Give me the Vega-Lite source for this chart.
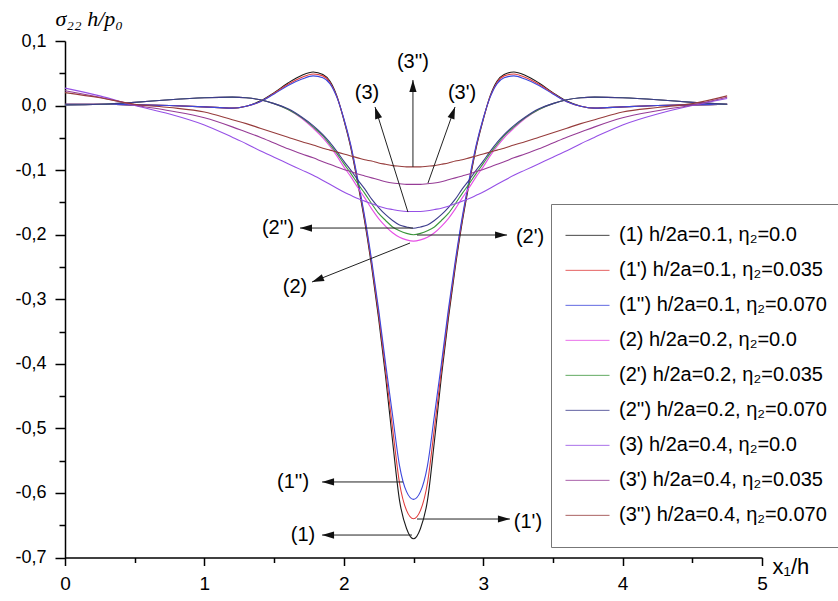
{
  "$schema": "https://vega.github.io/schema/vega-lite/v6.json",
  "width": 697,
  "height": 516.5,
  "autosize": {"type": "none"},
  "padding": {"left": 65, "top": 41, "right": 76, "bottom": 43.5},
  "background": "white",
  "config": {"view": {"stroke": null}, "font": "Liberation Sans"},
  "datasets": {
    "names": [
      {"k": "s1", "label": "(1) h/2a=0.1, η₂=0.0"},
      {"k": "s2", "label": "(1') h/2a=0.1, η₂=0.035"},
      {"k": "s3", "label": "(1'') h/2a=0.1, η₂=0.070"},
      {"k": "s4", "label": "(2) h/2a=0.2, η₂=0.0"},
      {"k": "s5", "label": "(2') h/2a=0.2, η₂=0.035"},
      {"k": "s6", "label": "(2'') h/2a=0.2, η₂=0.070"},
      {"k": "s7", "label": "(3) h/2a=0.4, η₂=0.0"},
      {"k": "s8", "label": "(3') h/2a=0.4, η₂=0.035"},
      {"k": "s9", "label": "(3'') h/2a=0.4, η₂=0.070"}
    ],
    "curves": [
      {"x": 0, "s1": 0.002, "s2": 0.002, "s3": 0.002, "s4": 0.001, "s5": 0.001, "s6": 0.001, "s7": 0.027, "s8": 0.023, "s9": 0.020},
      {"x": 0.25, "s1": 0.002, "s2": 0.002, "s3": 0.002, "s4": 0.002, "s5": 0.002, "s6": 0.002, "s7": 0.015, "s8": 0.013, "s9": 0.012},
      {"x": 0.5, "s1": 0.001, "s2": 0.001, "s3": 0.001, "s4": 0.005, "s5": 0.005, "s6": 0.005, "s7": 0.0, "s8": 0.001, "s9": 0.002},
      {"x": 0.75, "s1": 0.0, "s2": 0.0, "s3": 0.0, "s4": 0.009, "s5": 0.009, "s6": 0.009, "s7": -0.013, "s8": -0.008, "s9": -0.003},
      {"x": 1.0, "s1": -0.002, "s2": -0.002, "s3": -0.002, "s4": 0.012, "s5": 0.012, "s6": 0.012, "s7": -0.03, "s8": -0.019, "s9": -0.01},
      {"x": 1.2, "s1": -0.004, "s2": -0.004, "s3": -0.004, "s4": 0.013, "s5": 0.013, "s6": 0.013, "s7": -0.049, "s8": -0.033, "s9": -0.022},
      {"x": 1.3, "s1": -0.001, "s2": -0.001, "s3": -0.001, "s4": 0.012, "s5": 0.012, "s6": 0.012, "s7": -0.059, "s8": -0.041, "s9": -0.028},
      {"x": 1.4, "s1": 0.007, "s2": 0.006, "s3": 0.006, "s4": 0.009, "s5": 0.009, "s6": 0.009, "s7": -0.07, "s8": -0.049, "s9": -0.035},
      {"x": 1.5, "s1": 0.02, "s2": 0.019, "s3": 0.018, "s4": 0.003, "s5": 0.003, "s6": 0.003, "s7": -0.08, "s8": -0.058, "s9": -0.042},
      {"x": 1.6, "s1": 0.035, "s2": 0.033, "s3": 0.031, "s4": -0.006, "s5": -0.006, "s6": -0.005, "s7": -0.09, "s8": -0.067, "s9": -0.049},
      {"x": 1.7, "s1": 0.047, "s2": 0.044, "s3": 0.041, "s4": -0.02, "s5": -0.019, "s6": -0.018, "s7": -0.1, "s8": -0.075, "s9": -0.056},
      {"x": 1.78, "s1": 0.052, "s2": 0.049, "s3": 0.046, "s4": -0.035, "s5": -0.033, "s6": -0.031, "s7": -0.108, "s8": -0.081, "s9": -0.061},
      {"x": 1.85, "s1": 0.048, "s2": 0.046, "s3": 0.043, "s4": -0.05, "s5": -0.047, "s6": -0.045, "s7": -0.116, "s8": -0.087, "s9": -0.066},
      {"x": 1.9, "s1": 0.038, "s2": 0.036, "s3": 0.034, "s4": -0.063, "s5": -0.06, "s6": -0.057, "s7": -0.122, "s8": -0.091, "s9": -0.069},
      {"x": 1.95, "s1": 0.015, "s2": 0.014, "s3": 0.013, "s4": -0.078, "s5": -0.074, "s6": -0.071, "s7": -0.128, "s8": -0.095, "s9": -0.072},
      {"x": 2.0, "s1": -0.022, "s2": -0.021, "s3": -0.02, "s4": -0.095, "s5": -0.09, "s6": -0.086, "s7": -0.134, "s8": -0.099, "s9": -0.075},
      {"x": 2.05, "s1": -0.065, "s2": -0.063, "s3": -0.061, "s4": -0.11, "s5": -0.105, "s6": -0.1, "s7": -0.139, "s8": -0.102, "s9": -0.078},
      {"x": 2.1, "s1": -0.12, "s2": -0.117, "s3": -0.114, "s4": -0.127, "s5": -0.121, "s6": -0.115, "s7": -0.144, "s8": -0.106, "s9": -0.081},
      {"x": 2.15, "s1": -0.18, "s2": -0.176, "s3": -0.172, "s4": -0.143, "s5": -0.136, "s6": -0.129, "s7": -0.148, "s8": -0.109, "s9": -0.084},
      {"x": 2.2, "s1": -0.25, "s2": -0.245, "s3": -0.24, "s4": -0.16, "s5": -0.152, "s6": -0.145, "s7": -0.152, "s8": -0.112, "s9": -0.086},
      {"x": 2.25, "s1": -0.33, "s2": -0.323, "s3": -0.316, "s4": -0.175, "s5": -0.167, "s6": -0.158, "s7": -0.156, "s8": -0.115, "s9": -0.089},
      {"x": 2.3, "s1": -0.42, "s2": -0.41, "s3": -0.4, "s4": -0.187, "s5": -0.178, "s6": -0.169, "s7": -0.159, "s8": -0.118, "s9": -0.091},
      {"x": 2.35, "s1": -0.52, "s2": -0.5, "s3": -0.48, "s4": -0.197, "s5": -0.188, "s6": -0.178, "s7": -0.161, "s8": -0.12, "s9": -0.093},
      {"x": 2.4, "s1": -0.612, "s2": -0.585, "s3": -0.558, "s4": -0.204, "s5": -0.194, "s6": -0.185, "s7": -0.163, "s8": -0.121, "s9": -0.094},
      {"x": 2.45, "s1": -0.655, "s2": -0.627, "s3": -0.598, "s4": -0.208, "s5": -0.198, "s6": -0.188, "s7": -0.164, "s8": -0.122, "s9": -0.095},
      {"x": 2.5, "s1": -0.671, "s2": -0.64, "s3": -0.61, "s4": -0.21, "s5": -0.2, "s6": -0.19, "s7": -0.164, "s8": -0.122, "s9": -0.095},
      {"x": 2.55, "s1": -0.655, "s2": -0.627, "s3": -0.598, "s4": -0.208, "s5": -0.198, "s6": -0.188, "s7": -0.164, "s8": -0.122, "s9": -0.095},
      {"x": 2.6, "s1": -0.612, "s2": -0.585, "s3": -0.558, "s4": -0.204, "s5": -0.194, "s6": -0.185, "s7": -0.163, "s8": -0.121, "s9": -0.094},
      {"x": 2.65, "s1": -0.52, "s2": -0.5, "s3": -0.48, "s4": -0.197, "s5": -0.188, "s6": -0.178, "s7": -0.161, "s8": -0.12, "s9": -0.093},
      {"x": 2.7, "s1": -0.42, "s2": -0.41, "s3": -0.4, "s4": -0.187, "s5": -0.178, "s6": -0.169, "s7": -0.159, "s8": -0.118, "s9": -0.091},
      {"x": 2.75, "s1": -0.33, "s2": -0.323, "s3": -0.316, "s4": -0.175, "s5": -0.167, "s6": -0.158, "s7": -0.156, "s8": -0.115, "s9": -0.089},
      {"x": 2.8, "s1": -0.25, "s2": -0.245, "s3": -0.24, "s4": -0.16, "s5": -0.152, "s6": -0.145, "s7": -0.152, "s8": -0.112, "s9": -0.086},
      {"x": 2.85, "s1": -0.18, "s2": -0.176, "s3": -0.172, "s4": -0.143, "s5": -0.136, "s6": -0.129, "s7": -0.148, "s8": -0.109, "s9": -0.084},
      {"x": 2.9, "s1": -0.12, "s2": -0.117, "s3": -0.114, "s4": -0.127, "s5": -0.121, "s6": -0.115, "s7": -0.144, "s8": -0.106, "s9": -0.081},
      {"x": 2.95, "s1": -0.065, "s2": -0.063, "s3": -0.061, "s4": -0.11, "s5": -0.105, "s6": -0.1, "s7": -0.139, "s8": -0.102, "s9": -0.078},
      {"x": 3.0, "s1": -0.022, "s2": -0.021, "s3": -0.02, "s4": -0.095, "s5": -0.09, "s6": -0.086, "s7": -0.134, "s8": -0.099, "s9": -0.075},
      {"x": 3.05, "s1": 0.015, "s2": 0.014, "s3": 0.013, "s4": -0.078, "s5": -0.074, "s6": -0.071, "s7": -0.128, "s8": -0.095, "s9": -0.072},
      {"x": 3.1, "s1": 0.038, "s2": 0.036, "s3": 0.034, "s4": -0.063, "s5": -0.06, "s6": -0.057, "s7": -0.122, "s8": -0.091, "s9": -0.069},
      {"x": 3.15, "s1": 0.048, "s2": 0.046, "s3": 0.043, "s4": -0.05, "s5": -0.047, "s6": -0.045, "s7": -0.116, "s8": -0.087, "s9": -0.066},
      {"x": 3.22, "s1": 0.052, "s2": 0.049, "s3": 0.046, "s4": -0.035, "s5": -0.033, "s6": -0.031, "s7": -0.108, "s8": -0.081, "s9": -0.061},
      {"x": 3.3, "s1": 0.047, "s2": 0.044, "s3": 0.041, "s4": -0.02, "s5": -0.019, "s6": -0.018, "s7": -0.1, "s8": -0.075, "s9": -0.056},
      {"x": 3.4, "s1": 0.035, "s2": 0.033, "s3": 0.031, "s4": -0.006, "s5": -0.006, "s6": -0.005, "s7": -0.09, "s8": -0.067, "s9": -0.049},
      {"x": 3.5, "s1": 0.02, "s2": 0.019, "s3": 0.018, "s4": 0.003, "s5": 0.003, "s6": 0.003, "s7": -0.08, "s8": -0.058, "s9": -0.042},
      {"x": 3.6, "s1": 0.007, "s2": 0.006, "s3": 0.006, "s4": 0.009, "s5": 0.009, "s6": 0.009, "s7": -0.07, "s8": -0.049, "s9": -0.035},
      {"x": 3.7, "s1": -0.001, "s2": -0.001, "s3": -0.001, "s4": 0.012, "s5": 0.012, "s6": 0.012, "s7": -0.059, "s8": -0.041, "s9": -0.028},
      {"x": 3.8, "s1": -0.004, "s2": -0.004, "s3": -0.004, "s4": 0.013, "s5": 0.013, "s6": 0.013, "s7": -0.049, "s8": -0.033, "s9": -0.022},
      {"x": 4.0, "s1": -0.002, "s2": -0.002, "s3": -0.002, "s4": 0.012, "s5": 0.012, "s6": 0.012, "s7": -0.03, "s8": -0.019, "s9": -0.01},
      {"x": 4.25, "s1": 0.0, "s2": 0.0, "s3": 0.0, "s4": 0.009, "s5": 0.009, "s6": 0.009, "s7": -0.013, "s8": -0.008, "s9": -0.003},
      {"x": 4.5, "s1": 0.001, "s2": 0.001, "s3": 0.001, "s4": 0.005, "s5": 0.005, "s6": 0.005, "s7": 0.0, "s8": 0.001, "s9": 0.003},
      {"x": 4.75, "s1": 0.002, "s2": 0.002, "s3": 0.002, "s4": 0.002, "s5": 0.002, "s6": 0.002, "s7": 0.011, "s8": 0.013, "s9": 0.015}
    ],
    "arrows": [
      {"x": 2.496, "y": -0.095, "x2": 2.496, "y2": 0.0396, "ang": 0, "lx": 2.496, "ly": 0.0675, "label": "(3'')"},
      {"x": 2.46, "y": -0.165, "x2": 2.224, "y2": -0.0022, "ang": 342.6, "lx": 2.166, "ly": 0.0195, "label": "(3)"},
      {"x": 2.604, "y": -0.12, "x2": 2.798, "y2": -0.0022, "ang": 19.6, "lx": 2.848, "ly": 0.0195, "label": "(3')"},
      {"x": 2.496, "y": -0.1897, "x2": 1.686, "y2": -0.1897, "ang": 270, "lx": 1.528, "ly": -0.1897, "label": "(2'')"},
      {"x": 2.525, "y": -0.2005, "x2": 3.171, "y2": -0.2005, "ang": 90, "lx": 3.336, "ly": -0.2034, "label": "(2')"},
      {"x": 2.475, "y": -0.2129, "x2": 1.772, "y2": -0.2733, "ang": 248.3, "lx": 1.65, "ly": -0.281, "label": "(2)"},
      {"x": 2.425, "y": -0.583, "x2": 1.844, "y2": -0.583, "ang": 270, "lx": 1.636, "ly": -0.583, "label": "(1'')"},
      {"x": 2.525, "y": -0.6404, "x2": 3.192, "y2": -0.6404, "ang": 90, "lx": 3.321, "ly": -0.645, "label": "(1')"},
      {"x": 2.489, "y": -0.6652, "x2": 1.844, "y2": -0.6652, "ang": 270, "lx": 1.707, "ly": -0.6652, "label": "(1)"}
    ]
  },
  "layer": [
    {
      "data": {"name": "curves"},
      "transform": [
        {"fold": ["s1", "s2", "s3", "s4", "s5", "s6", "s7", "s8", "s9"], "as": ["series", "v"]},
        {"lookup": "series", "from": {"data": {"name": "names"}, "key": "k", "fields": ["label"]}}
      ],
      "mark": {"type": "line", "interpolate": "monotone", "strokeWidth": 1.1},
      "encoding": {
        "x": {
          "field": "x", "type": "quantitative",
          "scale": {"domain": [0, 5], "nice": false, "zero": false},
          "axis": {
            "orient": "bottom", "values": [0, 1, 2, 3, 4, 5], "format": "d", "grid": false,
            "domainColor": "black", "domainWidth": 1.5, "tickColor": "black", "tickWidth": 1.5, "tickSize": 8,
            "labelFontSize": 19, "labelColor": "black", "labelPadding": 9, "labelFlush": false,
            "title": "x₁/h", "titleX": 707, "titleY": 15.5, "titleAlign": "left", "titleBaseline": "alphabetic",
            "titleFontSize": 22, "titleFontWeight": "normal", "titleColor": "black"
          }
        },
        "y": {
          "field": "v", "type": "quantitative",
          "scale": {"domain": [-0.7, 0.1], "nice": false, "zero": false},
          "axis": {
            "orient": "left", "values": [0.1, 0, -0.1, -0.2, -0.3, -0.4, -0.5, -0.6, -0.7], "grid": false,
            "labelExpr": "replace(replace(format(datum.value, '.1f'), '.', ','), '\u2212', '-')",
            "domainColor": "black", "domainWidth": 1.5, "tickColor": "black", "tickWidth": 1.5, "tickSize": 10,
            "labelFontSize": 18, "labelColor": "black", "labelPadding": 9, "labelFlush": false,
            "title": "σ₂₂ h/p₀", "titleAngle": 0, "titleX": -10, "titleY": -16, "titleAlign": "left",
            "titleBaseline": "alphabetic", "titleFont": "Liberation Serif", "titleFontStyle": "italic",
            "titleFontSize": 22, "titleFontWeight": "normal", "titleColor": "black"
          }
        },
        "color": {
          "field": "label", "type": "nominal",
          "scale": {
            "domain": ["(1) h/2a=0.1, η₂=0.0", "(1') h/2a=0.1, η₂=0.035", "(1'') h/2a=0.1, η₂=0.070", "(2) h/2a=0.2, η₂=0.0", "(2') h/2a=0.2, η₂=0.035", "(2'') h/2a=0.2, η₂=0.070", "(3) h/2a=0.4, η₂=0.0", "(3') h/2a=0.4, η₂=0.035", "(3'') h/2a=0.4, η₂=0.070"],
            "range": ["#1a1a1a", "#e03c3c", "#3c46dc", "#e650e6", "#3c963c", "#3c3c8c", "#9650e6", "#963c96", "#963c3c"]
          },
          "legend": {
            "orient": "none", "legendX": 486, "legendY": 163, "title": null,
            "symbolType": "stroke", "symbolSize": 1936, "symbolStrokeWidth": 1, "symbolOffset": 0, "symbolOpacity": 0.8,
            "labelFontSize": 20, "labelColor": "black", "labelLimit": 400, "labelOffset": 9,
            "clipHeight": 34.7, "rowPadding": 0, "padding": 14, "strokeColor": "#777", "fillColor": "white"
          }
        }
      }
    },
    {
      "data": {"name": "arrows"},
      "mark": {"type": "rule", "color": "#222", "strokeWidth": 1},
      "encoding": {
        "x": {"field": "x", "type": "quantitative", "scale": {"domain": [0, 5], "nice": false, "zero": false}, "axis": null},
        "y": {"field": "y", "type": "quantitative", "scale": {"domain": [-0.7, 0.1], "nice": false, "zero": false}, "axis": null},
        "x2": {"field": "x2"},
        "y2": {"field": "y2"}
      }
    },
    {
      "data": {"name": "arrows"},
      "mark": {"type": "point", "shape": "M0,0L-0.6,2L0.6,2Z", "size": 144, "filled": true, "color": "#111", "opacity": 1, "strokeWidth": 0},
      "encoding": {
        "x": {"field": "x2", "type": "quantitative", "scale": {"domain": [0, 5], "nice": false, "zero": false}, "axis": null},
        "y": {"field": "y2", "type": "quantitative", "scale": {"domain": [-0.7, 0.1], "nice": false, "zero": false}, "axis": null},
        "angle": {"field": "ang", "type": "quantitative", "scale": null}
      }
    },
    {
      "data": {"name": "arrows"},
      "mark": {"type": "text", "fontSize": 20, "font": "Liberation Sans", "color": "black", "align": "center", "baseline": "middle"},
      "encoding": {
        "x": {
          "field": "lx", "type": "quantitative", "scale": {"domain": [0, 5], "nice": false, "zero": false},
          "axis": {"orient": "bottom", "values": [0.5, 1.5, 2.5, 3.5, 4.5], "labels": false, "domain": false, "grid": false, "tickColor": "black", "tickWidth": 1.5, "tickSize": 5, "title": null}
        },
        "y": {
          "field": "ly", "type": "quantitative", "scale": {"domain": [-0.7, 0.1], "nice": false, "zero": false},
          "axis": {"orient": "left", "values": [0.05, -0.05, -0.15, -0.25, -0.35, -0.45, -0.55, -0.65], "labels": false, "domain": false, "grid": false, "tickColor": "black", "tickWidth": 1.5, "tickSize": 6, "title": null}
        },
        "text": {"field": "label"}
      }
    }
  ],
  "resolve": {"axis": {"x": "independent", "y": "independent"}}
}
